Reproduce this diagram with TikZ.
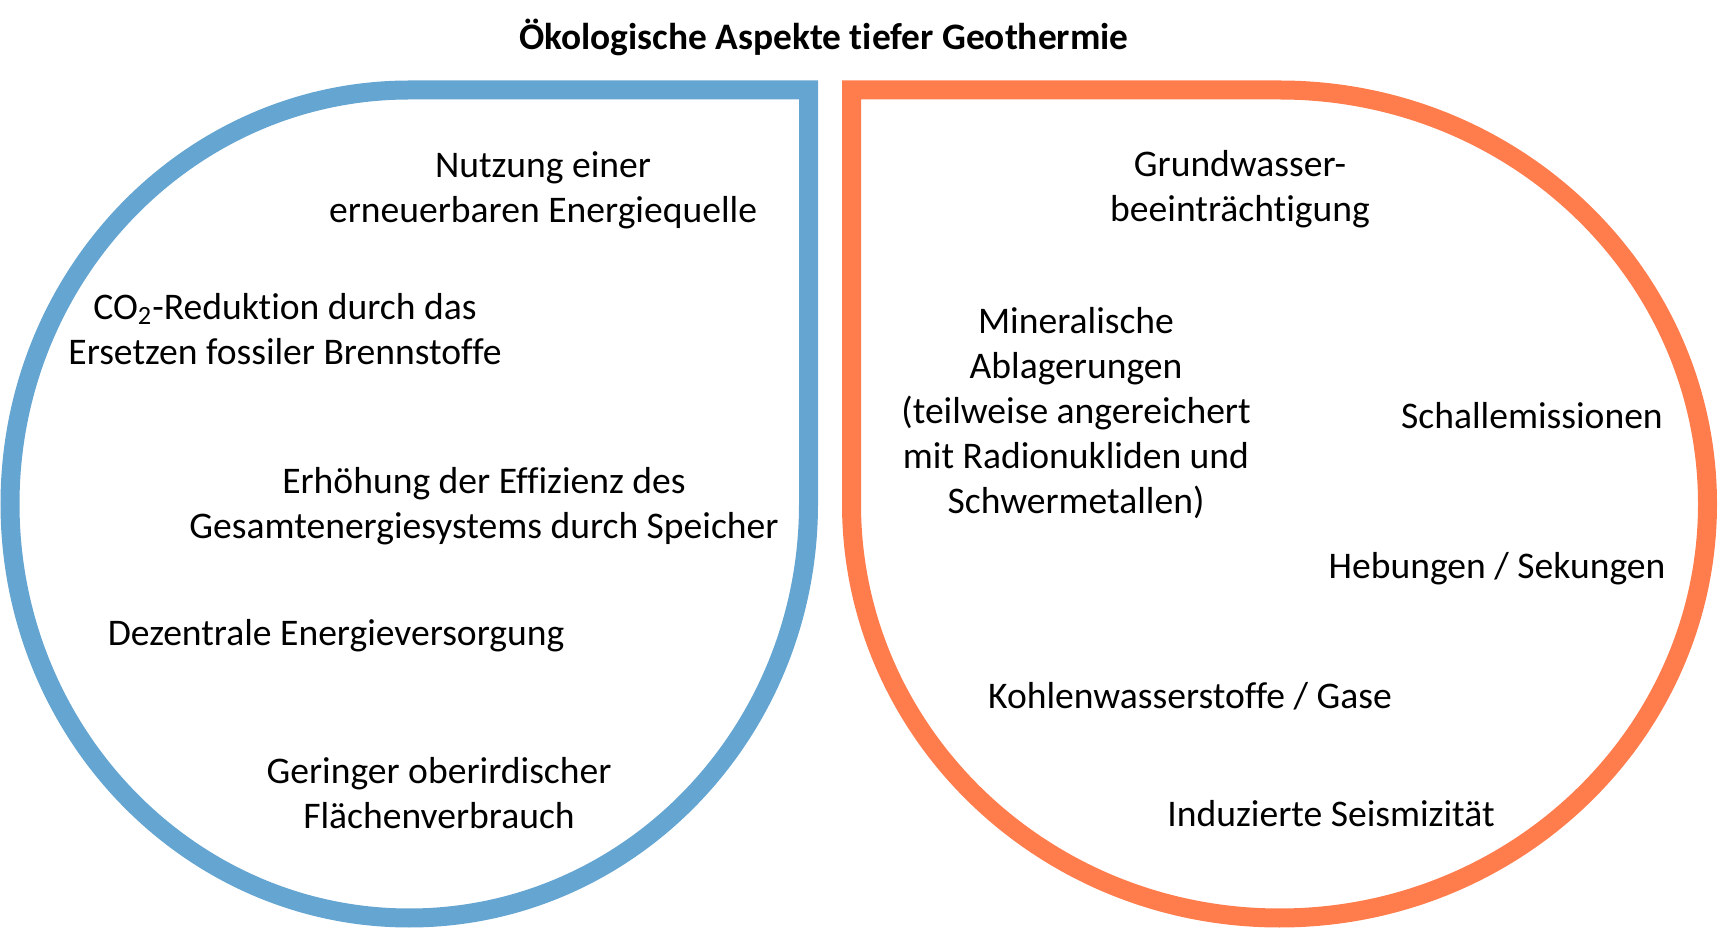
\documentclass[tikz,border=0pt]{standalone}
\usepackage{fontspec}
\setmainfont{Carlito}[Ligatures={NoCommon}]
\usepackage{xcolor}
\usepackage{tikz}
\definecolor{posblue}{HTML}{65A5D1}
\definecolor{negorange}{HTML}{FF7C4D}

\begin{document}
\begin{tikzpicture}[
  x=0.5pt,y=0.5pt,
  drop/.style={line width=9.5pt,line join=miter},
  txt/.style={align=center,font=\fontsize{18.8pt}{22.6pt}\selectfont,inner sep=0pt},
  title/.style={font=\fontsize{18.7pt}{22pt}\selectfont\bfseries,inner sep=0pt}
]
\useasboundingbox (0,0) rectangle (1724,-929);

\node[title] (titel) at (824,-37) {Ökologische Aspekte tiefer Geothermie};

% positive aspects
\draw[drop,posblue] (808.5,-90) -- (808.5,-504)
  arc[start angle=0,end angle=-270,x radius=199.625pt,y radius=207pt] -- cycle;
% negative aspects
\draw[drop,negorange] (851.5,-90) -- (1279.5,-90)
  arc[start angle=90,end angle=-180,x radius=214pt,y radius=207pt] -- cycle;

\node[txt] (nutzung) at (543,-190) {Nutzung einer\\erneuerbaren Energiequelle};
\node[txt] (co2) at (285,-329) {CO\textsubscript{2}-Reduktion durch das\\Ersetzen fossiler Brennstoffe};
\node[txt] (effizienz) at (484,-506) {Erhöhung der Effizienz des\\Gesamtenergiesystems durch Speicher};
\node[txt] (dezentral) at (336,-636) {Dezentrale Energieversorgung};
\node[txt] (flaeche) at (439,-793) {Geringer oberirdischer\\Flächenverbrauch};

\node[txt] (grundwasser) at (1240,-189) {Grundwasser-\\beeinträchtigung};
\node[txt] (mineral) at (1076,-413) {Mineralische\\Ablagerungen\\(teilweise angereichert\\mit Radionukliden und\\Schwermetallen)};
\node[txt] (schall) at (1532,-416) {Schallemissionen};
\node[txt] (hebung) at (1497,-569) {Hebungen / Sekungen};
\node[txt] (kohlen) at (1190,-696) {Kohlenwasserstoffe / Gase};
\node[txt] (seismik) at (1331,-814) {Induzierte Seismizität};
\end{tikzpicture}
\end{document}
